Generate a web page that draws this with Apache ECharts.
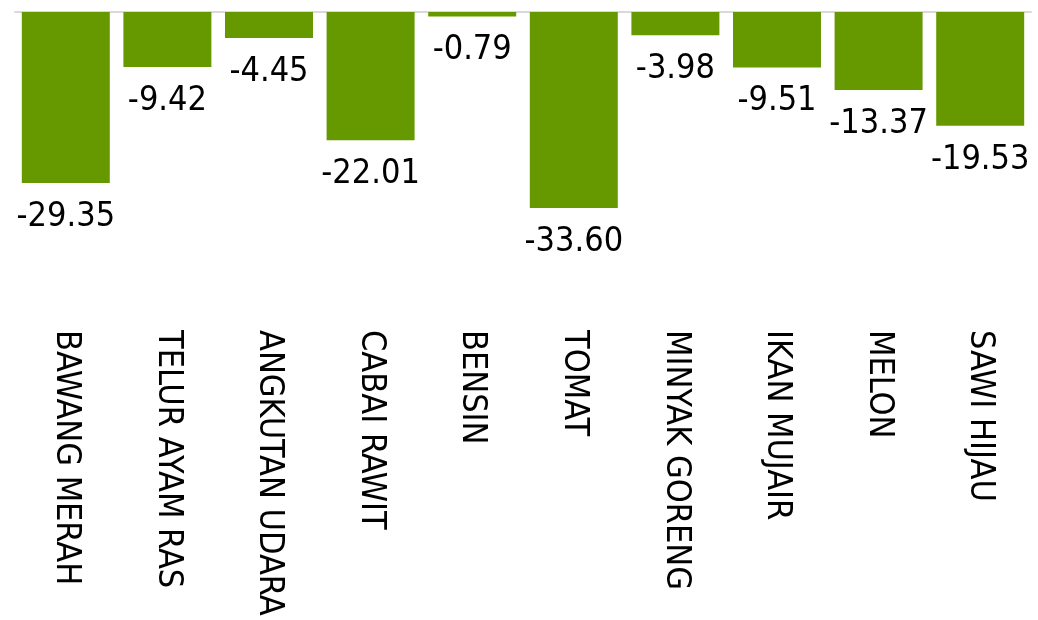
<!DOCTYPE html>
<html>
<head>
<meta charset="utf-8">
<script src="https://cdn.jsdelivr.net/npm/echarts@6/dist/echarts.min.js"></script>
<style>html,body{margin:0;padding:0;background:#fff;}#c{width:1038px;height:620px;}</style>
</head>
<body>
<div id="c"></div>
<script>
const categories = ['BAWANG MERAH','TELUR AYAM RAS','ANGKUTAN UDARA','CABAI RAWIT','BENSIN','TOMAT','MINYAK GORENG','IKAN MUJAIR','MELON','SAWI HIJAU'];
const values = [-29.35,-9.42,-4.45,-22.01,-0.79,-33.60,-3.98,-9.51,-13.37,-19.53];

const FONT = "'Liberation Sans Narrow','Arial Narrow','DejaVu Sans Condensed',sans-serif";
const chart = echarts.init(document.getElementById('c'), null, {renderer:'canvas'});
chart.setOption({
  animation:false,
  backgroundColor:'#fff',
  grid:{left:15,right:7,top:12,bottom:298,containLabel:false,outerBoundsMode:'none'},
  xAxis:[{
    type:'category',data:categories,position:'bottom',
    axisLine:{show:false,onZero:false},axisTick:{show:false},
    axisLabel:{rotate:-90,margin:8,fontSize:34,fontFamily:FONT,color:'#000',interval:0}
  },{
    type:'category',data:categories,position:'top',
    axisLine:{show:true,onZero:false,lineStyle:{color:'#d9d9d9',width:2}},
    axisTick:{show:false},axisLabel:{show:false}
  }],
  yAxis:{type:'value',min:-53.17,max:0,show:false,splitLine:{show:false}},
  series:[{
    type:'bar',data:values,barCategoryGap:'13.4%',
    itemStyle:{color:'#669900'},
    label:{show:true,position:'bottom',distance:17,fontSize:34,fontFamily:FONT,color:'#000',
      formatter:p=>p.value.toFixed(2)}
  }]
});
</script>
</body>
</html>
